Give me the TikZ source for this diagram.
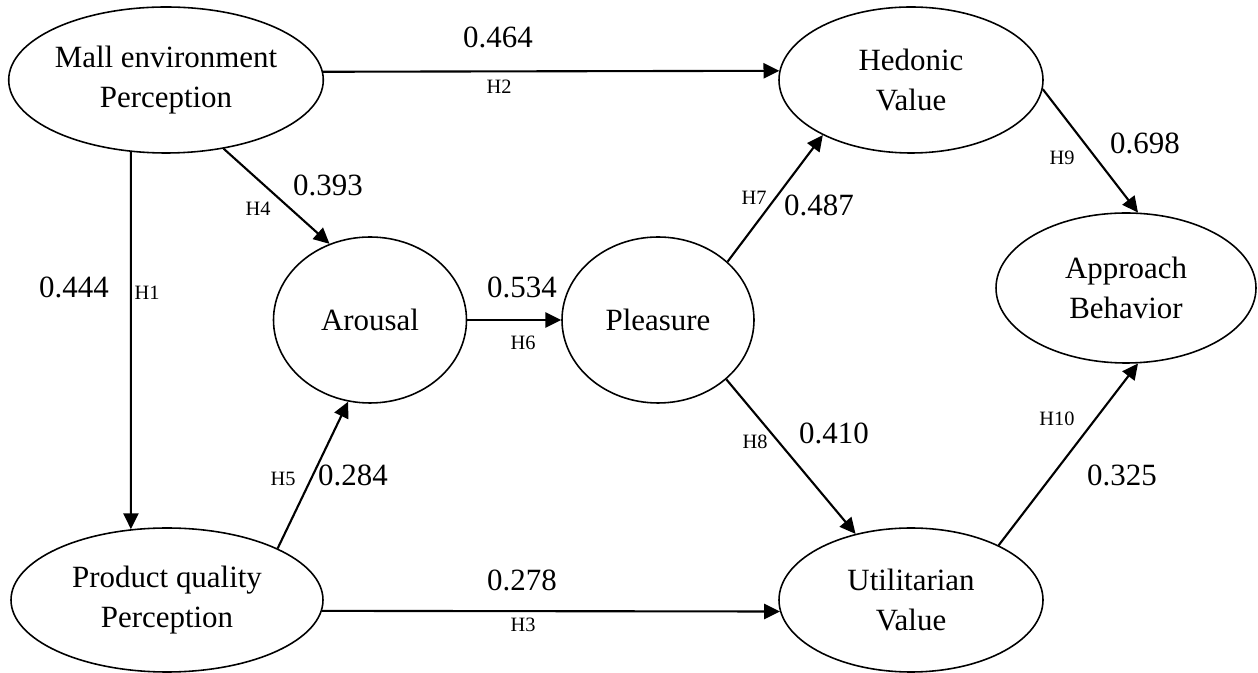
\documentclass[tikz,border=0pt]{standalone}
\usepackage{fontspec}
\setmainfont{Liberation Serif}
\usetikzlibrary{shapes,arrows.meta}

\begin{document}
\begin{tikzpicture}[scale=0.1]
  \tikzstyle{every node}+=[inner sep=0pt]
  \tikzstyle{construct}=[draw, ellipse, line width=0.45pt, align=center, font=\fontsize{8.8}{11.4}\selectfont]
  \tikzstyle{link}=[-{Triangle[length=4.5pt,width=4.3pt]}, line width=0.6pt]
  \tikzstyle{coef}=[font=\fontsize{8.8}{10}\selectfont]
  \tikzstyle{hyp}=[font=\fontsize{5.8}{7}\selectfont]
  \useasboundingbox (0,0) rectangle (125.8,-67.3);
  % constructs
  \node [construct, minimum width=3.12cm, minimum height=1.46cm] (mall) at (16.6,-8.0) {Mall environment\\Perception};
  \node [construct, minimum width=2.64cm, minimum height=1.46cm] (hedonic) at (91.1,-8.0) {Hedonic\\Value};
  \node [construct, minimum width=2.60cm, minimum height=1.50cm] (approach) at (112.6,-28.8) {Approach\\Behavior};
  \node [construct, minimum width=1.93cm, minimum height=1.66cm] (arousal) at (37.0,-32.0) {Arousal};
  \node [construct, minimum width=1.92cm, minimum height=1.66cm] (pleasure) at (65.8,-32.0) {Pleasure};
  \node [construct, minimum width=3.12cm, minimum height=1.44cm] (product) at (16.7,-60.0) {Product quality\\Perception};
  \node [construct, minimum width=2.64cm, minimum height=1.44cm] (util) at (91.1,-60.0) {Utilitarian\\Value};
  % paths
  \draw [link] (mall.244) -- (product.117);
  \draw [link] (mall.3) -- (hedonic.176);
  \draw [link] (product.356) -- (util.185);
  \draw [link] (mall.310) -- (arousal.118);
  \draw [link] (product.25) -- (arousal.255);
  \draw [link] (arousal.east) -- (pleasure.west);
  \draw [link] (pleasure.40) -- (hedonic.212);
  \draw [link] (pleasure.319) -- (util.130);
  \draw [link] (hedonic.356) -- (approach.81);
  \draw [link] (util.32) -- (approach.279);
  % coefficients and hypotheses
  \node [coef] (c1) at (7.4,-28.7) {0.444};
  \node [hyp] (h1) at (14.7,-29.3) {H1};
  \node [coef] (c2) at (49.8,-3.7) {0.464};
  \node [hyp] (h2) at (49.9,-8.7) {H2};
  \node [coef] (c3) at (52.2,-58.0) {0.278};
  \node [hyp] (h3) at (52.3,-62.5) {H3};
  \node [coef] (c4) at (32.8,-18.5) {0.393};
  \node [hyp] (h4) at (25.8,-20.9) {H4};
  \node [coef] (c5) at (35.3,-47.5) {0.284};
  \node [hyp] (h5) at (28.3,-47.9) {H5};
  \node [coef] (c6) at (52.2,-28.7) {0.534};
  \node [hyp] (h6) at (52.3,-34.3) {H6};
  \node [coef] (c7) at (81.9,-20.5) {0.487};
  \node [hyp] (h7) at (75.4,-19.8) {H7};
  \node [coef] (c8) at (83.4,-43.3) {0.410};
  \node [hyp] (h8) at (75.5,-44.2) {H8};
  \node [coef] (c9) at (114.5,-14.3) {0.698};
  \node [hyp] (h9) at (106.2,-15.8) {H9};
  \node [coef] (c10) at (112.2,-47.5) {0.325};
  \node [hyp] (h10) at (105.7,-41.9) {H10};
\end{tikzpicture}
\end{document}
